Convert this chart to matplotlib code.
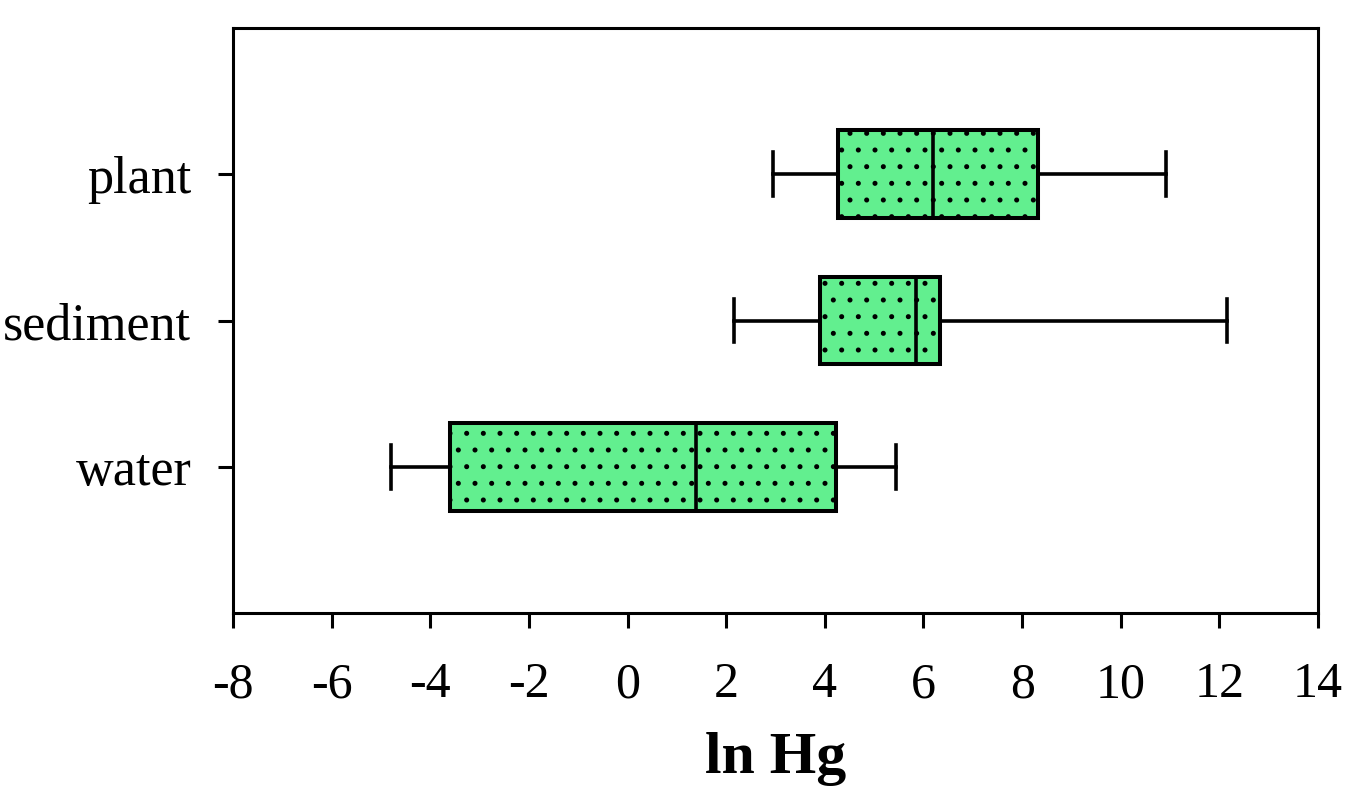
import matplotlib
matplotlib.use("Agg")
import matplotlib.pyplot as plt

categories = ["water", "sediment", "plant"]
whisker_low = [-4.8, 2.15, 2.95]
q1 = [-3.6, 3.9, 4.27]
median = [1.38, 5.85, 6.2]
q3 = [4.22, 6.33, 8.32]
whisker_high = [5.45, 12.15, 10.92]

plt.rcParams['font.family'] = ['Liberation Serif', 'DejaVu Serif']
plt.rcParams['axes.unicode_minus'] = False
plt.rcParams['hatch.linewidth'] = 1.2
plt.rcParams['hatch.color'] = 'black'

fig = plt.figure(figsize=(13.52, 8.11), dpi=100)
ax = fig.add_axes([0.1723, 0.2441, 0.8026, 0.7214])

stats = []
for i, c in enumerate(categories):
    stats.append(dict(label=c, whislo=whisker_low[i], q1=q1[i], med=median[i],
                      q3=q3[i], whishi=whisker_high[i], fliers=[]))

positions = [1, 2, 3]
bp = ax.bxp(stats, positions=positions, vert=False, widths=0.6, patch_artist=True,
            showfliers=False,
            boxprops=dict(facecolor='#62EF8F', edgecolor='black', linewidth=2.9, hatch='.'),
            medianprops=dict(color='black', linewidth=2.6),
            whiskerprops=dict(color='black', linewidth=2.6),
            capprops=dict(color='black', linewidth=2.6),
            capwidths=0.3)

ax.set_xlim(-8, 14)
ax.set_ylim(0, 4)
ax.set_xticks(range(-8, 15, 2))
ax.set_yticks(positions)
ax.set_yticklabels(categories)
ax.tick_params(axis='both', direction='out', length=11, width=2.2)
ax.tick_params(axis='x', labelsize=36, pad=24)
ax.tick_params(axis='y', labelsize=37.5, pad=19)
for s in ax.spines.values():
    s.set_linewidth(2.2)
ax.set_xlabel("ln Hg", fontsize=43, fontweight='bold', labelpad=17)

fig.savefig("out.png", dpi=100)
